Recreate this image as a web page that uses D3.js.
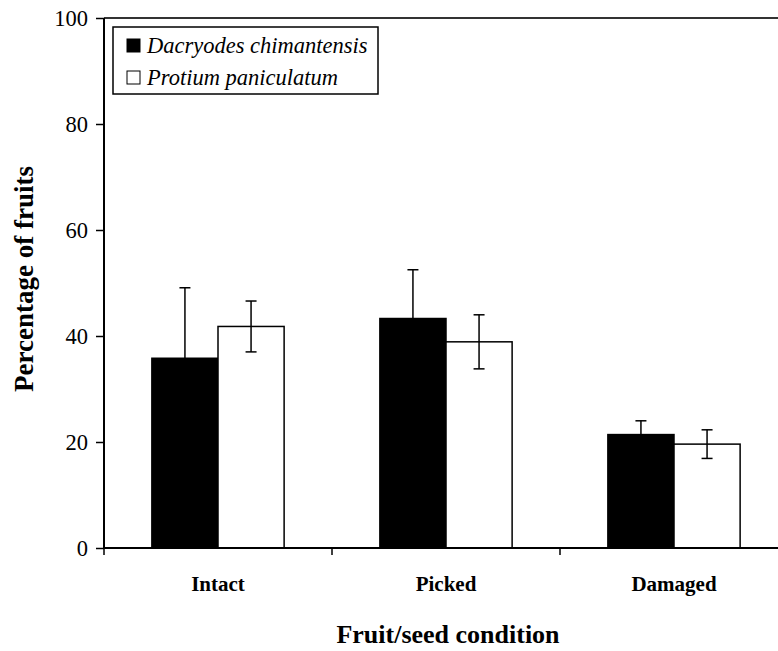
<!DOCTYPE html>
<html>
<head>
<meta charset="utf-8">
<script src="https://cdn.jsdelivr.net/npm/d3@7"></script>
<style>
  body { margin: 0; background: #fff; }
  svg text { font-family: "Liberation Serif", "DejaVu Serif", serif !important; }
</style>
</head>
<body>
<div id="chart"></div>
<script>
// ---- data ----
const categories = ["Intact", "Picked", "Damaged"];
const seriesNames = ["Dacryodes chimantensis", "Protium paniculatum"];
const dacryodes = [35.8, 43.3, 21.4];
const dacryodesErr = [13.3, 9.2, 2.6];
const protium = [41.8, 38.9, 19.6];
const protiumErr = [4.8, 5.1, 2.7];
const yTicks = [0, 20, 40, 60, 80, 100];

const fills = ["#000", "#fff"];
const serif = "'Liberation Serif', 'DejaVu Serif', serif";

//==================== layout ====================
const W = 778, H = 651;
const plot = { left: 104, top: 18, right: 788, bottom: 548 };

const svg = d3.select("#chart").append("svg")
  .attr("width", W).attr("height", H)
  .attr("font-family", serif);

const rows = categories.map((c, i) => ({
  cat: c,
  vals: [
    { s: 0, v: dacryodes[i], e: dacryodesErr[i] },
    { s: 1, v: protium[i], e: protiumErr[i] }
  ]
}));

const x = d3.scaleBand().domain(categories)
  .range([plot.left, plot.right])
  .paddingInner(0.42).paddingOuter(0.21);
const xSub = d3.scaleBand().domain([0, 1]).range([0, x.bandwidth()]);
const y = d3.scaleLinear().domain([0, 100]).range([plot.bottom, plot.top]);

//==================== frame (top edge) ====================
svg.append("line")
  .attr("x1", plot.left).attr("x2", plot.right)
  .attr("y1", plot.top).attr("y2", plot.top)
  .attr("stroke", "#333").attr("stroke-width", 2);

//==================== bars ====================
const groups = svg.selectAll(".grp").data(rows).enter().append("g")
  .attr("transform", d => `translate(${x(d.cat)},0)`);

groups.selectAll("rect").data(d => d.vals).enter().append("rect")
  .attr("x", d => xSub(d.s))
  .attr("y", d => y(d.v))
  .attr("width", xSub.bandwidth())
  .attr("height", d => y(0) - y(d.v))
  .attr("fill", d => fills[d.s])
  .attr("stroke", "#000")
  .attr("stroke-width", 1.5);

// error bars
const cap = 5.5;
const eb = groups.selectAll(".err").data(d => d.vals).enter().append("g")
  .attr("stroke", "#000").attr("stroke-width", 1.5);
eb.append("line")
  .attr("x1", d => xSub(d.s) + xSub.bandwidth() / 2)
  .attr("x2", d => xSub(d.s) + xSub.bandwidth() / 2)
  .attr("y1", d => y(d.v - d.e)).attr("y2", d => y(d.v + d.e));
eb.append("line")
  .attr("x1", d => xSub(d.s) + xSub.bandwidth() / 2 - cap)
  .attr("x2", d => xSub(d.s) + xSub.bandwidth() / 2 + cap)
  .attr("y1", d => y(d.v + d.e)).attr("y2", d => y(d.v + d.e));
eb.append("line")
  .attr("x1", d => xSub(d.s) + xSub.bandwidth() / 2 - cap)
  .attr("x2", d => xSub(d.s) + xSub.bandwidth() / 2 + cap)
  .attr("y1", d => y(d.v - d.e)).attr("y2", d => y(d.v - d.e));

//==================== axes ====================
const yAxis = svg.append("g")
  .attr("transform", `translate(${plot.left},0)`)
  .call(d3.axisLeft(y).tickValues(yTicks).tickSize(8).tickPadding(8));
yAxis.attr("font-family", serif).attr("font-size", 22.5);
yAxis.select(".domain").attr("stroke-width", 2).attr("d", `M0,${plot.top}V${plot.bottom}`);
yAxis.selectAll(".tick line").attr("stroke-width", 1.5);
yAxis.selectAll("text").attr("fill", "#000");

// x axis: ticks sit between categories
const step = x.step();
const xAxis = svg.append("g").attr("transform", `translate(0,${plot.bottom})`);
xAxis.append("line")
  .attr("x1", plot.left).attr("x2", plot.right)
  .attr("stroke", "#000").attr("stroke-width", 2);
xAxis.selectAll(".xt").data(d3.range(categories.length + 1)).enter().append("line")
  .attr("x1", i => plot.left + i * step).attr("x2", i => plot.left + i * step)
  .attr("y1", 0).attr("y2", 7)
  .attr("stroke", "#000").attr("stroke-width", 1.5);
xAxis.selectAll(".xl").data(categories).enter().append("text")
  .attr("x", d => x(d) + x.bandwidth() / 2)
  .attr("y", 43)
  .attr("text-anchor", "middle")
  .attr("font-size", 21).attr("font-weight", "bold")
  .text(d => d);

//==================== axis titles ====================
svg.append("text")
  .attr("x", 448).attr("y", 643)
  .attr("text-anchor", "middle")
  .attr("font-size", 26).attr("font-weight", "bold")
  .text("Fruit/seed condition");

svg.append("text")
  .attr("transform", "translate(33,279) rotate(-90)")
  .attr("text-anchor", "middle")
  .attr("font-size", 27).attr("font-weight", "bold")
  .text("Percentage of fruits");

//==================== legend ====================
const legend = svg.append("g").attr("transform", "translate(113,27)");
legend.append("rect")
  .attr("width", 265).attr("height", 67)
  .attr("fill", "#fff").attr("stroke", "#000").attr("stroke-width", 1.5);
const li = legend.selectAll(".li").data(seriesNames).enter().append("g")
  .attr("transform", (d, i) => `translate(14,${12 + i * 32})`);
li.append("rect")
  .attr("width", 13).attr("height", 13)
  .attr("fill", (d, i) => fills[i])
  .attr("stroke", "#000").attr("stroke-width", 1);
li.append("text")
  .attr("x", 20).attr("y", 14)
  .attr("font-size", 22.5).attr("font-style", "italic")
  .text(d => d);
</script>
</body>
</html>
